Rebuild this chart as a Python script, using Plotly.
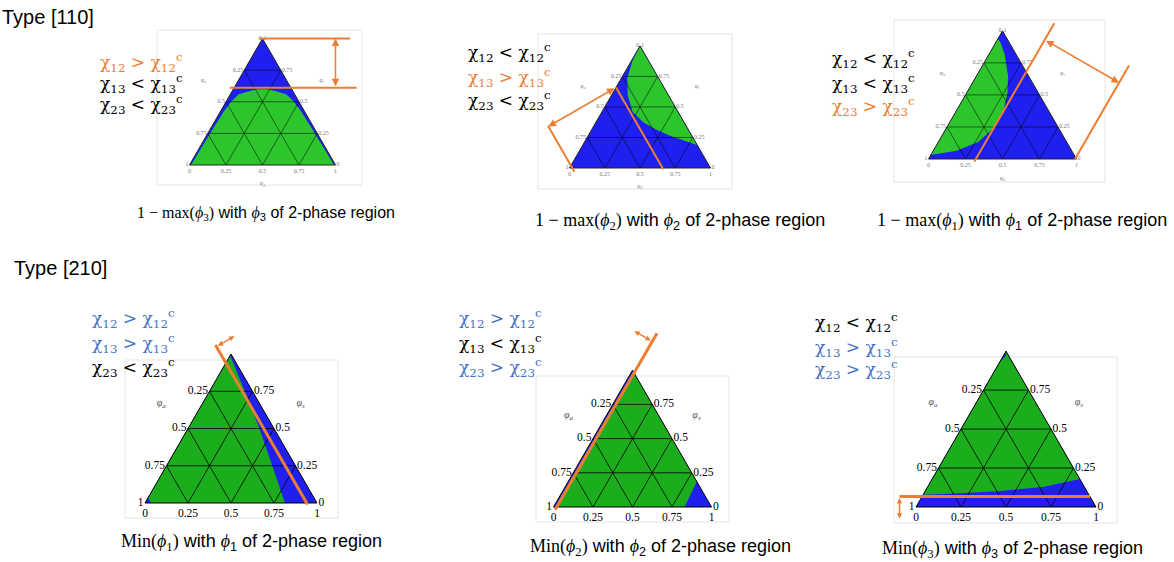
import plotly.graph_objects as go

W, H = 1174, 562
BLUE = '#1f1ff0'
ORANGE = '#ed7d31'
CHI_BLUE = '#4472c4'
GREEN_TOP = '#2cc62c'
GREEN_BOT = '#1cad1c'
SQ3 = 3 ** 0.5

# corners: a = phi3 (top), b = phi2 (bottom left), c = phi1 (bottom right)
# outlines of the green two-phase regions (a, c); b = 1 - a - c
p1_a = [0.0, 0.15, 0.286, 0.422, 0.50, 0.559, 0.586, 0.597, 0.60, 0.597, 0.586, 0.559, 0.50, 0.422, 0.286, 0.15, 0.0]
p1_c = [0.01, 0.014, 0.018, 0.023, 0.035, 0.058, 0.122, 0.16, 0.20, 0.243, 0.292, 0.383, 0.465, 0.555, 0.696, 0.836, 0.99]

p2_a = [1.0, 0.875, 0.736, 0.597, 0.458, 0.375, 0.319, 0.264, 0.208, 0.186]
p2_c = [0.0, 0.008, 0.042, 0.114, 0.219, 0.336, 0.447, 0.58, 0.75, 0.814]

p3_a = [0.94, 0.90, 0.81, 0.647, 0.511, 0.375, 0.239, 0.13, 0.0625, 0.035, 0.03]
p3_c = [0.0, 0.04, 0.111, 0.214, 0.278, 0.318, 0.321, 0.268, 0.152, 0.015, 0.0]

p4_a = [0.99, 0.75, 0.5, 0.25, 0.0, 0.0, 0.035]
p4_c = [0.0, 0.205, 0.415, 0.615, 0.814, 0.035, 0.0]

p5_a = [0.0, 0.988, 0.186, 0.0]
p5_c = [0.012, 0.012, 0.814, 0.83]

p6_a = [0.079, 0.085, 0.101, 0.13, 0.18, 1.0, 0.97, 0.93]
p6_c = [0.0, 0.149, 0.402, 0.648, 0.82, 0.0, 0.015, 0.0]

# bounding compositions marked by the orange lines
p1_max_phi3 = 0.61
p2_max_phi2 = 0.34
p3_max_phi1 = 0.32
p4_level = 0.06
p5_level = 0.02
p6_level = 0.067

grid_levels = [0.25, 0.5, 0.75]
tick_vals = [0, 0.25, 0.5, 0.75, 1]
tick_text = ['1', '0.75', '0.5', '0.25', '0']

pairs = ['12', '13', '23']
p1_signs = ['>', '<', '<']
p2_signs = ['<', '>', '<']
p3_signs = ['<', '<', '>']
p4_signs = ['>', '>', '<']
p5_signs = ['>', '<', '>']
p6_signs = ['<', '>', '>']

panels = [
    dict(cx=262.5, yb=165, w=146, top=True, a=p1_a, c=p1_c, axis='a', inner=p1_max_phi3, outer=1.0,
         inner_span=(-0.03, 0.84), outer_span=(-0.02, 0.6), arrow_at=0.695, arrow_d=1.0 - p1_max_phi3,
         signs=p1_signs, chi_x=98, chi_y=[62, 83, 104], k=3, cap_xy=(266, 213), cap_size=16,
         frame=(157, 30, 362, 185)),
    dict(cx=640, yb=168, w=141, top=True, a=p2_a, c=p2_c, axis='b', inner=p2_max_phi2, outer=0.98,
         inner_span=(0.66, -0.01), outer_span=(0.345, -0.03), arrow_at=0.66, arrow_d=0.98 - p2_max_phi2,
         signs=p2_signs, chi_x=466, chi_y=[52, 77, 100], k=2, cap_xy=(680, 221), cap_size=18,
         frame=(538, 34, 732, 189)),
    dict(cx=1002.5, yb=159, w=148, top=True, a=p3_a, c=p3_c, axis='c', inner=p3_max_phi1, outer=0.99,
         inner_span=(-0.02, 1.06), outer_span=(0.0, 0.73), arrow_at=0.93, arrow_d=0.99 - p3_max_phi1,
         signs=p3_signs, chi_x=830, chi_y=[58, 83, 106], k=1, cap_xy=(1022, 221), cap_size=18,
         frame=(894, 20, 1105, 182)),
    dict(cx=231, yb=503, w=172, top=False, a=p4_a, c=p4_c, axis='b', inner=p4_level, outer=None,
         inner_span=(1.06, -0.01), outer_span=None, arrow_at=1.05, arrow_d=-0.14,
         signs=p4_signs, chi_x=90, chi_y=[318, 343, 367], k=1, cap_xy=(251, 542), cap_size=18,
         frame=(125, 360, 338, 518)),
    dict(cx=632.5, yb=507, w=158, top=False, a=p5_a, c=p5_c, axis='c', inner=p5_level, outer=None,
         inner_span=(-0.02, 1.27), outer_span=None, arrow_at=1.21, arrow_d=-0.15,
         signs=p5_signs, chi_x=457, chi_y=[318, 343, 367], k=2, cap_xy=(660, 547), cap_size=18,
         frame=(536, 376, 729, 522)),
    dict(cx=1006, yb=507, w=180, top=False, a=p6_a, c=p6_c, axis='a', inner=p6_level, outer=None,
         inner_span=(-0.125, 0.933), outer_span=None, arrow_at=-0.125, arrow_d=-0.14,
         signs=p6_signs, chi_x=813, chi_y=[322, 347, 369], k=3, cap_xy=(1012, 549), cap_size=18,
         frame=(894, 357, 1117, 523)),
]


def on_level(axis, v, t):
    # point on the line axis == v; t is c for 'a' lines, a otherwise
    if axis == 'a':
        return v, 1 - v - t, t
    if axis == 'b':
        return t, v, 1 - v - t
    return t, 1 - v - t, v


def shift(pt, axis, d):
    # move perpendicular to the level lines of `axis` by d
    i = 'abc'.index(axis)
    out = [x - d / 2 for x in pt]
    out[i] = pt[i] + d
    return tuple(out)


def to_px(p, pt):
    # same placement as the ternary subplot (centred in its domain)
    a, b, c = pt
    x0 = p['cx'] - p['w'] / 2
    return x0 + (c + a / 2) * p['w'], p['yb'] - a * p['w'] * SQ3 / 2


fig = go.Figure()
annotations = []
shapes = []
layout_t = {}

for n, p in enumerate(panels):
    sid = 'ternary' if n == 0 else f'ternary{n + 1}'
    top = p['top']

    # subplot placement
    h = p['w'] * SQ3 / 2
    dom = dict(x=[(p['cx'] - p['w'] / 2) / W, (p['cx'] + p['w'] / 2) / W],
               y=[(H - p['yb']) / H, (H - p['yb'] + h) / H])
    font = dict(family='Liberation Serif', size=6 if top else 11.5, color='#777' if top else 'black')
    base = dict(showgrid=False, ticks='', linecolor='#222' if top else 'black', linewidth=1,
                min=0, title=dict(text=''), tickfont=font)
    if top:
        ax_a = dict(base, tickvals=tick_vals, ticktext=tick_text)
        ax_c = dict(base, tickvals=tick_vals, ticktext=tick_text)
    else:
        # no labels at the top corner in the lower row
        ax_a = dict(base, tickvals=tick_vals[:-1], ticktext=tick_text[:-1])
        ax_c = dict(base, tickvals=tick_vals[1:], ticktext=tick_text[1:])
    ax_b = dict(base, tickvals=tick_vals, ticktext=tick_text)
    layout_t[sid] = dict(domain=dom, sum=1, bgcolor=BLUE, aaxis=ax_a, baxis=ax_b, caxis=ax_c)

    # green two-phase region
    ga = p['a']
    gc = p['c']
    gb = [1 - x - y for x, y in zip(ga, gc)]
    fig.add_trace(go.Scatterternary(a=ga, b=gb, c=gc, subplot=sid, mode='lines', fill='toself',
                                    fillcolor=GREEN_TOP if top else GREEN_BOT,
                                    line=dict(width=0), hoverinfo='skip'))

    # grid lines on top of the fill
    A, B, C = [], [], []
    for v in grid_levels:
        for axis in 'abc':
            for q in (on_level(axis, v, 0), on_level(axis, v, 1 - v)):
                A.append(q[0]); B.append(q[1]); C.append(q[2])
            A.append(None); B.append(None); C.append(None)
    fig.add_trace(go.Scatterternary(a=A, b=B, c=C, subplot=sid, mode='lines',
                                    line=dict(color='rgba(0,0,0,0.75)' if top else 'black',
                                              width=0.7 if top else 0.8),
                                    hoverinfo='skip'))

    # orange lines (drawn above the subplots)
    lw = 2 if top else 3
    spans = [(p['inner'], p['inner_span'])]
    if p['outer'] is not None:
        spans.append((p['outer'], p['outer_span']))
    for v, (t0, t1) in spans:
        x0, y0 = to_px(p, on_level(p['axis'], v, t0))
        x1, y1 = to_px(p, on_level(p['axis'], v, t1))
        shapes.append(dict(type='line', xref='x', yref='y', x0=x0, y0=y0, x1=x1, y1=y1,
                           line=dict(color=ORANGE, width=lw), layer='above'))

    # double-headed arrow
    s = on_level(p['axis'], p['inner'], p['arrow_at'])
    e = shift(s, p['axis'], p['arrow_d'])
    sx, sy = to_px(p, s)
    ex, ey = to_px(p, e)
    asz = 1.0 if top else 0.7
    annotations.append(dict(x=ex, y=ey, ax=sx, ay=sy, xref='x', yref='y', axref='x', ayref='y',
                            text='', showarrow=True, arrowside='end+start', arrowhead=2,
                            startarrowhead=2, arrowsize=asz, startarrowsize=asz,
                            arrowwidth=1.5, arrowcolor=ORANGE, standoff=0, startstandoff=0))

    # axis names
    pos = [(0.67, 0.57, -0.24), (0.67, -0.24, 0.57)] + ([(-0.15, 0.575, 0.575)] if top else [])
    lt = ['<i>φ<sub>a</sub></i>', '<i>φ<sub>s</sub></i>'] + (['<i>φ<sub>d</sub></i>'] if top else [])
    xy = [to_px(p, q) for q in pos]
    fig.add_trace(go.Scatter(x=[q[0] for q in xy], y=[q[1] for q in xy], text=lt, mode='text',
                             hoverinfo='skip', cliponaxis=False,
                             textfont=dict(family='Liberation Serif', size=6 if top else 10,
                                           color='#888' if top else '#555')))

    # chi conditions
    hl = ORANGE if top else CHI_BLUE
    for pair, sign, y in zip(pairs, p['signs'], p['chi_y']):
        col = hl if sign == '>' else 'black'
        annotations.append(dict(
            x=p['chi_x'], y=y, xref='x', yref='y', xanchor='left', yanchor='middle',
            showarrow=False,
            text=f'χ<sub>{pair}</sub> {sign} χ<sub>{pair}</sub><sup>c</sup>',
            font=dict(family='DejaVu Serif', size=17, color=col)))

    # caption
    k = p['k']
    phi = f'<span style="font-family:Liberation Serif"><i>ϕ</i></span><sub>{k}</sub>'
    head = (f'<span style="font-family:Liberation Serif">1 − max(<i>ϕ</i><sub>{k}</sub>)</span>' if top
            else f'<span style="font-family:Liberation Serif">Min(<i>ϕ</i><sub>{k}</sub>)</span>')
    annotations.append(dict(
        x=p['cap_xy'][0], y=p['cap_xy'][1], xref='x', yref='y',
        xanchor='center', yanchor='middle', showarrow=False,
        text=f'{head} with {phi} of 2-phase region',
        font=dict(family='Liberation Sans', size=p['cap_size'], color='black')))

    # faint frame of each plot
    x0, y0, x1, y1 = p['frame']
    shapes.append(dict(type='rect', xref='x', yref='y', x0=x0, x1=x1, y0=y0, y1=y1,
                       line=dict(color='#e4e4e4', width=1), layer='below'))

for txt, x, y in [('Type [110]', 0, 17), ('Type [210]', 12, 268)]:
    annotations.append(dict(x=x, y=y, xref='x', yref='y', xanchor='left',
                            yanchor='middle', showarrow=False, text=txt,
                            font=dict(family='Liberation Sans', size=20, color='black')))

fig.update_layout(width=W, height=H, margin=dict(l=0, r=0, t=0, b=0),
                  paper_bgcolor='white', plot_bgcolor='rgba(0,0,0,0)', showlegend=False,
                  xaxis=dict(range=[0, W], visible=False, fixedrange=True),
                  yaxis=dict(range=[H, 0], visible=False, fixedrange=True),
                  annotations=annotations, shapes=shapes, **layout_t)

fig.write_html('out.html', config={'displayModeBar': False},
               post_script="document.body.style.margin='0';")
